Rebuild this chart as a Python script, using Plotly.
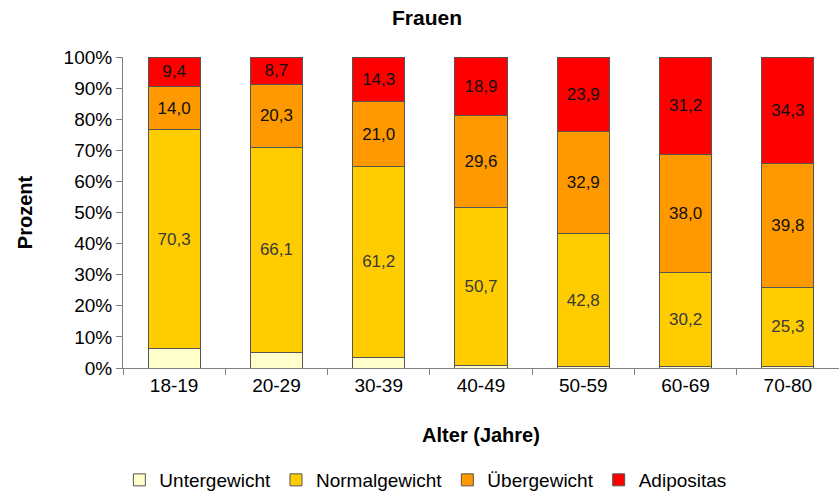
import plotly.graph_objects as go

categories = ["18-19", "20-29", "30-39", "40-49", "50-59", "60-69", "70-80"]
untergewicht = [6.3, 4.9, 3.5, 0.8, 0.4, 0.6, 0.6]
normalgewicht = [70.3, 66.1, 61.2, 50.7, 42.8, 30.2, 25.3]
uebergewicht = [14.0, 20.3, 21.0, 29.6, 32.9, 38.0, 39.8]
adipositas = [9.4, 8.7, 14.3, 18.9, 23.9, 31.2, 34.3]

series = [
    ("Untergewicht", untergewicht, "#FFFFCC", False, "#000000"),
    ("Normalgewicht", normalgewicht, "#FFCC00", True, "#3a3a3a"),
    ("Übergewicht", uebergewicht, "#FF9900", True, "#111111"),
    ("Adipositas", adipositas, "#FF0000", True, "#111111"),
]

FONT = "Liberation Sans, Arial"

fig = go.Figure()
for name, vals, color, show, tcol in series:
    fig.add_trace(go.Bar(
        name=name, x=categories, y=vals,
        marker=dict(color=color, line=dict(color="#555555", width=1)),
        width=0.51,
        texttemplate="%{y:.1f}" if show else "",
        textposition="inside" if show else "none",
        insidetextanchor="middle",
        textangle=0,
        textfont=dict(family=FONT, size=17, color=tcol),
        hoverinfo="skip",
    ))

fig.update_layout(
    barmode="stack",
    separators=",.",
    width=839, height=491,
    margin=dict(l=123, r=0, t=57, b=123),
    paper_bgcolor="white", plot_bgcolor="white",
    font=dict(family=FONT, size=19, color="#000000"),
    uniformtext=dict(minsize=8, mode="show"),
    showlegend=True,
    legend=dict(orientation="h", x=0.507, xref="container", xanchor="center",
                y=11 / 491, yref="container", yanchor="middle",
                traceorder="normal", itemwidth=30,
                font=dict(family=FONT, size=19), tracegroupgap=0),
    title=dict(text="<b>Frauen</b>", x=0.509, xref="container", xanchor="center",
               y=1 - 18 / 491, yref="container", yanchor="middle",
               font=dict(family=FONT, size=21)),
)

fig.update_xaxes(
    type="category", showline=True, linecolor="#808080", linewidth=1,
    ticks="outside", tickson="boundaries", ticklen=6, tickcolor="#808080",
    tickfont=dict(family=FONT, size=19), showgrid=False,
    title=dict(text="<b>Alter (Jahre)</b>", font=dict(family=FONT, size=20), standoff=33),
)
fig.update_yaxes(
    range=[0, 100], tickvals=list(range(0, 101, 10)),
    ticktext=[f"{v}%" for v in range(0, 101, 10)],
    showline=True, linecolor="#808080", linewidth=1,
    ticks="outside", ticklen=6, tickcolor="#808080",
    tickfont=dict(family=FONT, size=19), showgrid=False, zeroline=False,
    title=dict(text="<b>Prozent</b>", font=dict(family=FONT, size=20), standoff=25),
)

fig.write_html("out.html", config={"displayModeBar": False},
               post_script="document.body.style.margin='0';document.body.style.overflow='hidden';")
